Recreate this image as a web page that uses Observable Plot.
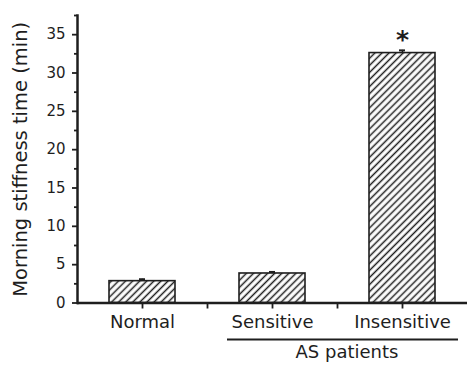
<!DOCTYPE html>
<html><head><meta charset="utf-8">
<script src="https://cdn.jsdelivr.net/npm/d3@7"></script>
<script src="https://cdn.jsdelivr.net/npm/@observablehq/plot@0.6"></script>
<style>body{margin:0;background:#fff}</style>
</head><body><div id="chart"></div>
<script>
const categories = ["Normal", "Sensitive", "Insensitive"];
const values = [2.85, 3.85, 32.6];
const errors = [0.25, 0.2, 0.35];
const majorTicks = [0, 5, 10, 15, 20, 25, 30, 35];
const minorTicks = [2.5, 7.5, 12.5, 17.5, 22.5, 27.5, 32.5, 37.5];
const significant = ["Insensitive"];
const groupMembers = ["Sensitive", "Insensitive"];
const groupLabel = "AS patients";
const yLabel = "Morning stiffness time (min)";

const data = categories.map((c, i) => ({category: c, value: values[i], err: errors[i]}));
const ink = "#1e1e1e";

const svg = Plot.plot({
  width: 467, height: 368,
  marginLeft: 77, marginRight: 0, marginTop: 15, marginBottom: 65.5,
  style: {fontFamily: "DejaVu Sans", color: ink, background: "white"},
  x: {domain: categories, paddingInner: 0.49, paddingOuter: 0.245, axis: null},
  y: {domain: [0, 37.5], axis: null},
  marks: [
    Plot.barY(data, {x: "category", y: "value", fill: "url(#hatch)", stroke: ink, strokeWidth: 1.6}),
    Plot.ruleX(data, {x: "category", y1: "value", y2: d => d.value + d.err, stroke: ink, strokeWidth: 1.5}),
    Plot.tickY(data, {x: "category", y: d => d.value + d.err, insetLeft: 30, insetRight: 30, stroke: ink, strokeWidth: 2}),
    Plot.text(data.filter(d => significant.includes(d.category)), {x: "category", y: d => d.value + d.err, text: () => "*", fontSize: 25, fontWeight: "bold", lineAnchor: "bottom", dy: -2, fill: ink}),
    Plot.axisY({ticks: minorTicks, tickSize: 3, tickFormat: () => "", label: null, strokeWidth: 1.8}),
    Plot.axisY({ticks: majorTicks, tickSize: 5, tickPadding: 7, fontSize: 15, label: null, strokeWidth: 1.8}),
    Plot.axisY({ticks: [], label: yLabel, labelAnchor: "center", labelArrow: "none", labelOffset: 64, fontSize: 19.5, dy: 4}),
    Plot.axisX({tickSize: 6, tickPadding: 6, fontSize: 18, label: null, strokeWidth: 1.8}),
    Plot.axisX(categories.slice(0, 2), {tickSize: 6, tickFormat: () => "", label: null, strokeWidth: 1.8, dx: 65}),
    Plot.ruleY([0], {stroke: ink, strokeWidth: 2.5}),
    Plot.frame({anchor: "left", stroke: ink, strokeWidth: 2.5}),
    Plot.ruleY([0], {x1: () => groupMembers[0], x2: () => groupMembers[1], dy: 36.5, stroke: ink, strokeWidth: 2, insetLeft: -12, insetRight: -23}),
    Plot.text([groupLabel], {x: () => groupMembers[1], frameAnchor: "bottom", dy: 55, dx: -55.5, text: d => d, fontSize: 18, fill: ink})
  ]
});

const defs = d3.select(svg).insert("defs", ":first-child");
const pat = defs.append("pattern").attr("id", "hatch").attr("patternUnits", "userSpaceOnUse")
  .attr("width", 5).attr("height", 5).attr("patternTransform", "rotate(45)");
pat.append("rect").attr("width", 5).attr("height", 5).attr("fill", "white");
pat.append("line").attr("x1", 2.5).attr("y1", -1).attr("x2", 2.5).attr("y2", 6).attr("stroke", ink).attr("stroke-width", 1.5);

document.getElementById("chart").appendChild(svg);
</script>
</body></html>
